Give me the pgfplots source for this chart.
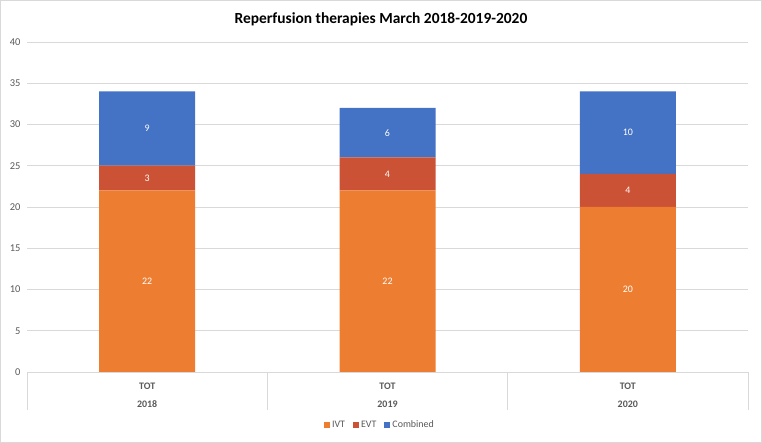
\documentclass[border=0pt]{standalone}
\usepackage{pgfplots}
\pgfplotsset{compat=1.18}
\usepackage{fontspec}
\setmainfont{Carlito}
\definecolor{ivt}{HTML}{ED7D31}
\definecolor{evt}{HTML}{CC5236}
\definecolor{comb}{HTML}{4472C4}
\definecolor{txt}{HTML}{595959}
\definecolor{grd}{HTML}{D9D9D9}
\begin{document}
\begin{tikzpicture}[x=1bp,y=1bp]
\useasboundingbox (0,0) rectangle (762,443);
\draw[grd, line width=0.75bp] (0.5,0.5) rectangle (761.5,442.5);
\node[font=\fontsize{15.5}{18}\selectfont\bfseries, text=black] at (381,424) {Reperfusion therapies March 2018-2019-2020};
\begin{axis}[
  at={(27bp,71bp)}, anchor=south west,
  scale only axis, width=721bp, height=330bp,
  ybar stacked, bar width=96bp,
  /pgf/number format/assume math mode=true,
  xmin=-0.5, xmax=2.5, ymin=0, ymax=40,
  ytick={0,5,...,40},
  xtick={0,1,2},
  xticklabels={{TOT\\2018},{TOT\\2019},{TOT\\2020}},
  xtick pos=bottom, ytick pos=left,
  major tick length=0pt,
  axis line style={draw=none},
  ymajorgrids, grid style={grd, line width=0.75bp},
  extra x ticks={-0.5,0.5,1.5,2.5},
  extra x tick labels={},
  extra x tick style={major tick length=38bp, tick align=outside, major tick style={draw=grd, line width=0.75bp}, xmajorgrids=false},
  yticklabel style={font=\fontsize{10.5}{12}\selectfont, text=txt, xshift=-3bp},
  xticklabel style={font=\fontsize{10}{19}\selectfont\bfseries, text=txt, align=center, yshift=-7bp},
  nodes near coords,
  every node near coord/.append style={anchor=center, font=\fontsize{10}{12}\selectfont, text=white},
  legend style={at={(0.4896,-0.1606)}, anchor=center, legend columns=-1, draw=none, fill=none, font=\fontsize{10}{12}\selectfont, text=txt, /tikz/every even column/.append style={column sep=6bp}},
  legend image code/.code={\fill[#1] (0bp,-3bp) rectangle (6bp,3bp);},
]
\addplot[fill=ivt, draw=none] coordinates {(0,22) (1,22) (2,20)};
\addplot[fill=evt, draw=none] coordinates {(0,3) (1,4) (2,4)};
\addplot[fill=comb, draw=none] coordinates {(0,9) (1,6) (2,10)};
\legend{IVT,EVT,Combined}
\end{axis}
\end{tikzpicture}
\end{document}
